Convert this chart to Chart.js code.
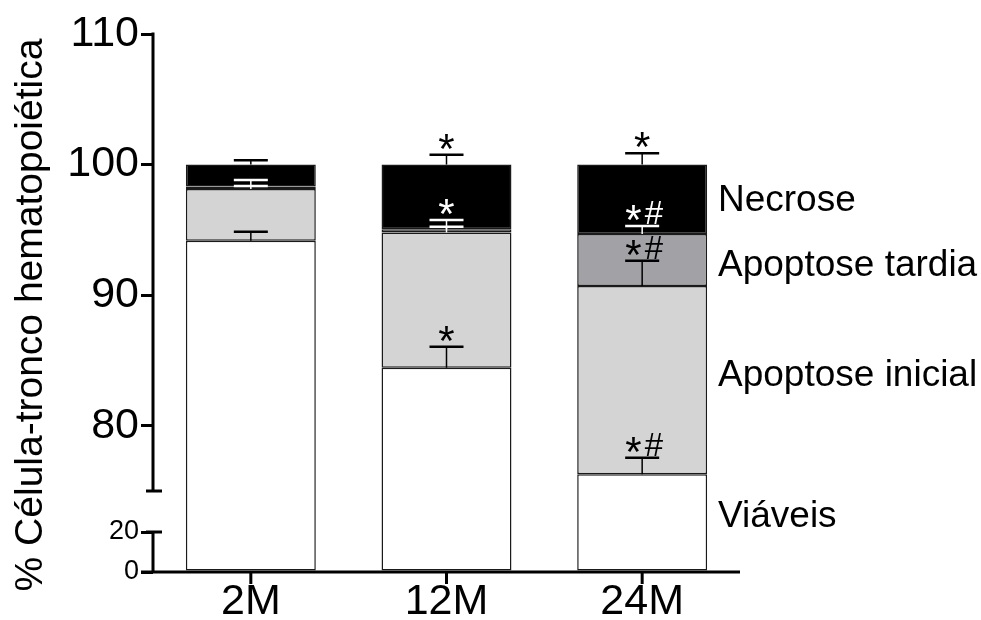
<!DOCTYPE html>
<html>
<head>
<meta charset="utf-8">
<script src="https://cdn.jsdelivr.net/npm/chart.js@4.4.1/dist/chart.umd.min.js"></script>
<style>
  html, body { margin: 0; padding: 0; background: #fff; }
  #wrap { width: 981px; height: 620px; position: relative; }
</style>
</head>
<body>
<div id="wrap"><canvas id="c" width="981" height="620"></canvas></div>
<script>
// ---- data -------------------------------------------------------------
const groups = ['2M', '12M', '24M'];
const seriesNames = ['Viáveis', 'Apoptose inicial', 'Apoptose tardia', 'Necrose'];

const viaveis         = [94.17, 84.44, 76.28];
const apoptoseInicial = [3.96, 10.36, 14.42];
const apoptoseTardia  = [0.19, 0.25, 3.98];
const necrose         = [1.68, 4.95, 5.32];

// standard errors (drawn upward only)
const errViaveis = [0.69, 1.61, 1.27];
const errInicial = [0.23, 0.44, 1.94];
const errTardia  = [0.50, 0.70, 0.62];
const errNecrose = [0.33, 0.76, 0.87];

// significance marks: * vs 2M, # vs 12M
const sigViaveis = ['', '*', '*#'];
const sigInicial = ['', '', '*#'];
const sigTardia  = ['', '*', '*#'];
const sigNecrose = ['', '*', '*'];

const yTicks = [0, 20, 80, 90, 100, 110];
const lowerBand = [0, 20];
const upperBand = [75, 110];

const yTitle = '% Célula-tronco hematopoiética';

// ---- styling ----------------------------------------------------------
const FONT = '"Liberation Sans", Arial, Helvetica, sans-serif';
const fills = ['#ffffff', '#d4d4d4', '#a2a1a6', '#000000'];
const seriesLabelY = [517, 376, 266, 201];

// ---- y scale with a broken axis (0-20 | gap | 75-110) -----------------
const { LinearScale } = Chart;
const PART_LOW = 40 / 538, PART_GAP = 41 / 538, PART_HIGH = 457 / 538;

class BrokenLinearScale extends LinearScale {
  _fraction(v) {
    const [l0, l1] = lowerBand, [u0, u1] = upperBand;
    if (v <= l1) return (v - l0) / (l1 - l0) * PART_LOW;
    if (v < u0) return PART_LOW + (v - l1) / (u0 - l1) * PART_GAP;
    return PART_LOW + PART_GAP + (v - u0) / (u1 - u0) * PART_HIGH;
  }
  getPixelForValue(value) {
    if (value === null || value === undefined || isNaN(value)) return NaN;
    return this.bottom - this._fraction(value) * (this.bottom - this.top);
  }
  getValueForPixel(pixel) {
    const f = (this.bottom - pixel) / (this.bottom - this.top);
    const [l0, l1] = lowerBand, [u0, u1] = upperBand;
    if (f <= PART_LOW) return l0 + f / PART_LOW * (l1 - l0);
    if (f < PART_LOW + PART_GAP) return l1 + (f - PART_LOW) / PART_GAP * (u0 - l1);
    return u0 + (f - PART_LOW - PART_GAP) / PART_HIGH * (u1 - u0);
  }
}
BrokenLinearScale.id = 'brokenLinear';
BrokenLinearScale.defaults = LinearScale.defaults;
Chart.register(BrokenLinearScale);

// ---- overlay: axes, error bars, significance marks, labels -------------
const seriesValues = [viaveis, apoptoseInicial, apoptoseTardia, necrose];
const seriesErrors = [errViaveis, errInicial, errTardia, errNecrose];
const seriesSig = [sigViaveis, sigInicial, sigTardia, sigNecrose];

function drawSig(ctx, text, cx, cy, color) {
  const parts = Array.from(text).map(ch => ({
    ch, font: (ch === '*' ? '42px ' : '33px ') + FONT
  }));
  const gap = 3;
  let total = 0;
  parts.forEach(p => {
    ctx.font = p.font;
    const m = ctx.measureText(p.ch);
    p.w = m.width; p.asc = m.actualBoundingBoxAscent; p.desc = m.actualBoundingBoxDescent;
    total += p.w;
  });
  total += gap * (parts.length - 1);
  let x = cx - total / 2;
  ctx.fillStyle = color;
  ctx.textAlign = 'left';
  ctx.textBaseline = 'alphabetic';
  parts.forEach(p => {
    ctx.font = p.font;
    ctx.fillText(p.ch, x, cy + (p.asc - p.desc) / 2);
    x += p.w + gap;
  });
}

const overlay = {
  id: 'overlay',
  afterDatasetsDraw(chart) {
    const ctx = chart.ctx;
    const ys = chart.scales.y, xs = chart.scales.x;
    const area = chart.chartArea;
    const ax = area.left;
    ctx.save();

    // error bars and significance marks
    groups.forEach((g, j) => {
      const cx = chart.getDatasetMeta(0).data[j].x;
      let cum = 0;
      const belowNecrose = viaveis[j] + apoptoseInicial[j] + apoptoseTardia[j];
      seriesValues.forEach((vals, i) => {
        cum += vals[j];
        const cap = cum + seriesErrors[i][j];
        const color = (i < 3 && cap > belowNecrose) ? '#ffffff' : '#000000';
        const pTop = ys.getPixelForValue(cum);
        const pCap = ys.getPixelForValue(cap);
        ctx.strokeStyle = color;
        ctx.lineWidth = 1.5;
        ctx.beginPath(); ctx.moveTo(cx, pTop); ctx.lineTo(cx, pCap); ctx.stroke();
        ctx.lineWidth = 2.5;
        ctx.beginPath(); ctx.moveTo(cx - 17, pCap); ctx.lineTo(cx + 17, pCap); ctx.stroke();
        const s = seriesSig[i][j];
        if (s) drawSig(ctx, s, cx + (s.length > 1 ? 2 : 0), pCap - 13, color);
      });
    });

    // axes
    ctx.strokeStyle = '#000';
    ctx.lineWidth = 3;
    ctx.lineCap = 'butt';
    const p110 = ys.getPixelForValue(upperBand[1]);
    const p75 = ys.getPixelForValue(upperBand[0]);
    const p20 = ys.getPixelForValue(lowerBand[1]);
    const p0 = ys.getPixelForValue(0);
    ctx.beginPath();
    ctx.moveTo(ax, p110 - 1.5); ctx.lineTo(ax, p75);
    ctx.moveTo(ax, p20); ctx.lineTo(ax, p0);
    // break caps
    ctx.moveTo(ax - 7, p75); ctx.lineTo(ax + 9, p75);
    ctx.moveTo(ax - 7, p20); ctx.lineTo(ax + 9, p20);
    // x axis
    ctx.moveTo(ax - 12, p0); ctx.lineTo(area.right, p0);
    ctx.stroke();
    ctx.beginPath();
    groups.forEach((g, j) => {
      const tx = xs.getPixelForTick(j);
      ctx.moveTo(tx, p0); ctx.lineTo(tx, p0 + 12);
    });
    ctx.stroke();
    ctx.restore();
  },
  afterDraw(chart) {
    const ctx = chart.ctx;
    ctx.save();
    ctx.fillStyle = '#000';
    // series names beside the last bar
    ctx.font = '37px ' + FONT;
    ctx.textAlign = 'left';
    ctx.textBaseline = 'middle';
    seriesNames.forEach((n, i) => ctx.fillText(n, 718, seriesLabelY[i]));
    // y axis title
    ctx.font = '39px ' + FONT;
    ctx.translate(31, 315);
    ctx.rotate(-Math.PI / 2);
    ctx.textAlign = 'center';
    ctx.fillText(yTitle, 0, 0);
    ctx.restore();
  }
};

// ---- chart ------------------------------------------------------------
new Chart(document.getElementById('c'), {
  type: 'bar',
  data: {
    labels: groups,
    datasets: seriesValues.map((vals, i) => ({
      label: seriesNames[i],
      data: vals,
      backgroundColor: fills[i],
      borderColor: '#1a1a1a',
      borderWidth: 1.5,
      borderSkipped: false,
      barPercentage: 0.664,
      categoryPercentage: 1
    }))
  },
  options: {
    responsive: false,
    animation: false,
    events: [],
    layout: { padding: { left: 0, right: 241, top: 34, bottom: 0 } },
    plugins: { legend: { display: false }, tooltip: { enabled: false } },
    scales: {
      x: {
        stacked: true,
        offset: true,
        afterFit: s => { s.height = 48; },
        border: { display: false },
        grid: { display: false },
        ticks: { color: '#000', padding: -4, maxRotation: 0, autoSkip: false,
                 font: { family: FONT, size: 43 } }
      },
      y: {
        type: 'brokenLinear',
        stacked: true,
        min: 0,
        max: 110,
        afterBuildTicks: s => { s.ticks = yTicks.map(v => ({ value: v })); },
        afterFit: s => { s.width = 153; },
        border: { display: false },
        grid: { drawOnChartArea: false, drawTicks: true, tickLength: 12,
                tickWidth: 3, tickColor: '#000', color: '#000', lineWidth: 3 },
        ticks: {
          color: '#000', padding: 2, autoSkip: false,
          font: c => ({ family: FONT, size: (c.tick && c.tick.value <= lowerBand[1]) ? 27 : 43 })
        }
      }
    }
  },
  plugins: [overlay]
});
</script>
</body>
</html>
